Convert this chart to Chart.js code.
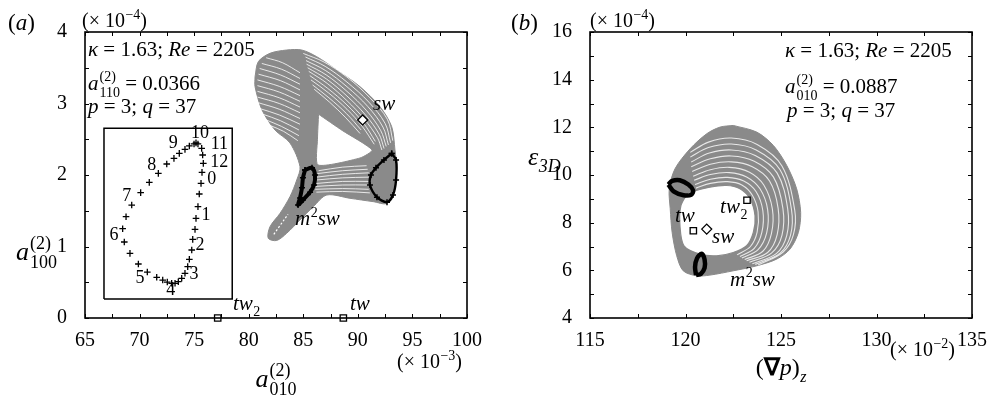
<!DOCTYPE html>
<html>
<head>
<meta charset="utf-8">
<script src="https://cdn.jsdelivr.net/npm/chart.js@4.4.0/dist/chart.umd.min.js"></script>
<style>
body { margin: 0; background: #fff; }
canvas { position: absolute; top: 0; }
#ca { left: 0; }
#cb { left: 499px; }
</style>
</head>
<body>
<canvas id="ca" width="499" height="402"></canvas>
<canvas id="cb" width="499" height="402"></canvas>
<script>
// ---- panel (a) data : x = a010 (x 1e-3), y = a100 (x 1e-4)
const aXTicks = [65, 70, 75, 80, 85, 90, 95, 100];
const aYTicks = [0, 1, 2, 3, 4];
const aOutline = [[80.58,3.375],[80.88,3.585],[81.95,3.702],[83.48,3.748],[84.86,3.748],[86.23,3.655],[88.06,3.469],[90.20,3.235],[92.03,2.955],[93.10,2.676],[93.40,2.350],[93.56,2.070],[93.25,1.790],[92.64,1.604],[91.42,1.627],[89.28,1.674],[87.15,1.720],[85.92,1.557],[84.70,1.371],[83.48,1.185],[82.56,1.084],[81.79,1.115],[81.95,1.277],[82.87,1.464],[83.78,1.697],[84.40,1.930],[84.70,2.116],[83.78,2.448],[82.41,2.629],[81.22,2.909],[80.58,3.235],[80.58,3.375]];
const aHole = [[86.40,2.85],[88.6,2.62],[91.30,2.350],[90.20,2.238],[86.35,2.140],[86.30,2.50],[86.40,2.85]];
const aLobeStripes = [
  [[81.6,3.64],[83.1,3.57],[84.7,3.43]],
  [[81.2,3.56],[83.0,3.48],[84.7,3.35]],
  [[81.0,3.49],[82.9,3.40],[84.7,3.27]],
  [[80.9,3.41],[82.9,3.32],[84.7,3.19]],
  [[80.8,3.33],[82.8,3.24],[84.7,3.11]],
  [[80.8,3.25],[82.8,3.16],[84.7,3.03]],
  [[80.8,3.17],[82.8,3.08],[84.7,2.95]],
  [[80.8,3.09],[82.8,3.00],[84.7,2.87]],
  [[80.9,3.01],[82.8,2.92],[84.7,2.79]],
  [[81.0,2.93],[82.8,2.84],[84.7,2.71]],
  [[81.3,2.85],[82.9,2.76],[84.6,2.63]],
  [[81.6,2.77],[83.0,2.68],[84.6,2.55]],
  [[82.0,2.69],[83.2,2.61],[84.5,2.48]]
];
const aBandStripes = [
  [[85.0,3.70],[86.9,3.58],[89.0,3.37],[91.1,3.08],[92.7,2.78],[93.2,2.48]],
  [[85.2,3.65],[87.0,3.52],[89.0,3.30],[91.0,3.02],[92.5,2.72],[93.0,2.45]],
  [[85.25,3.60],[87.05,3.46],[89.0,3.235],[90.9,2.96],[92.3,2.67],[92.8,2.42]],
  [[85.3,3.55],[87.1,3.40],[89.0,3.17],[90.8,2.90],[92.1,2.62],[92.6,2.40]],
  [[85.4,3.50],[87.15,3.34],[89.0,3.105],[90.7,2.84],[91.95,2.57],[92.4,2.37]],
  [[85.5,3.45],[87.2,3.28],[89.0,3.04],[90.6,2.78],[91.8,2.52],[92.2,2.35]],
  [[85.6,3.39],[87.25,3.21],[89.0,2.98],[90.5,2.73],[91.6,2.47]],
  [[85.7,3.33],[87.3,3.15],[89.0,2.92],[90.4,2.68],[91.5,2.43]],
  [[85.85,3.26],[87.35,3.08],[88.95,2.86],[90.3,2.63]],
  [[86.0,3.20],[87.4,3.02],[88.9,2.80],[90.2,2.58]]
];
const aLowStripes = [
  [[86.4,2.06],[88.6,2.11],[90.8,2.13]],
  [[86.3,2.02],[88.6,2.06],[90.9,2.08]],
  [[86.2,1.97],[88.6,2.01],[91.0,2.03]],
  [[86.2,1.93],[88.6,1.96],[91.0,1.97]],
  [[86.1,1.88],[88.6,1.91],[91.0,1.91]],
  [[86.1,1.84],[88.6,1.86],[91.0,1.86]],
  [[86.1,1.80],[88.6,1.81],[91.0,1.80]],
  [[86.2,1.76],[88.6,1.77],[91.1,1.75]]
];
const aTailStripe = [[82.3,1.17],[82.9,1.30],[83.6,1.45]];
const aLoopLeft = [[85.16,2.07],[85.80,2.10],[86.07,2.00],[85.98,1.86],[85.62,1.76],[84.97,1.65],[84.52,1.58],[84.70,1.68],[84.88,1.82],[84.97,1.96],[85.16,2.07]];
const aLoopRight = [[93.10,2.30],[93.50,2.21],[93.50,1.93],[93.22,1.72],[92.67,1.62],[91.75,1.69],[91.11,1.86],[91.20,2.00],[91.66,2.10],[92.39,2.21],[93.10,2.30]];
const aInsetBox = [[66.74,0.266],[78.49,0.266],[78.49,2.653],[66.74,2.653],[66.74,0.266]];
const aInsetPts = [[74.99,2.434],[75.17,2.45],[75.35,2.434],[75.69,2.373],[75.78,2.280],[75.84,2.163],[75.72,2.037],[75.63,1.883],[75.47,1.734],[75.35,1.557],[75.17,1.394],[75.08,1.240],[74.87,1.100],[74.78,0.951],[74.56,0.821],[74.41,0.718],[74.16,0.625],[73.86,0.555],[73.55,0.508],[73.25,0.485],[72.94,0.485],[72.54,0.503],[72.12,0.531],[71.57,0.569],[70.71,0.643],[69.89,0.755],[69.12,0.904],[68.60,1.063],[68.45,1.249],[68.76,1.417],[69.28,1.580],[70.10,1.753],[70.89,1.897],[71.72,2.023],[72.49,2.154],[73.15,2.233],[73.64,2.303],[74.16,2.359],[74.56,2.406]];
const aInsetNums = ['0','1','2','3','4','5','6','7','8','9','10','11','12'];
const aInsetNumPos = [[76.61,1.940],[76.09,1.441],[75.54,1.021],[74.99,0.615],[72.85,0.382],[70.04,0.555],[67.66,1.161],[68.82,1.706],[71.11,2.140],[73.09,2.443],[75.54,2.583],[77.31,2.434],[77.31,2.172]];
const aTw = [[77.16,0],[88.67,0]];
const aSw = [[90.44,2.77]];

// ---- panel (b) data : x = (grad p)z (x 1e-2), y = eps3D (x 1e-4)
const bXTicks = [115, 120, 125, 130, 135];
const bYTicks = [4, 6, 8, 10, 12, 14, 16];
const bOutline = [[122.50,12.08],[123.73,11.80],[124.60,11.24],[125.30,10.40],[125.82,9.42],[126.03,8.43],[125.91,7.59],[125.47,6.89],[124.77,6.47],[123.73,6.19],[122.50,5.98],[121.28,5.80],[120.59,5.77],[119.88,5.98],[119.54,6.61],[119.30,7.59],[119.20,8.58],[119.15,9.42],[119.45,10.26],[120.24,11.10],[121.11,11.73],[121.81,12.01],[122.50,12.08]];
const bHole = [[120.13,9.26],[121.28,9.49],[122.16,9.56],[122.85,9.42],[123.38,9.00],[123.64,8.29],[123.55,7.59],[123.20,7.03],[122.50,6.75],[121.63,6.61],[120.76,6.68],[119.92,7.03],[119.71,7.87],[119.76,8.72],[120.13,9.26]];
const bStripes = [
  [[120.55,9.45],[121.3,9.65],[122.2,9.72],[122.95,9.58],[123.5,9.15],[123.8,8.45],[123.75,7.6],[123.4,7.0],[122.7,6.65]],
  [[120.5,9.6],[121.3,9.82],[122.2,9.9],[123.05,9.75],[123.7,9.3],[124.05,8.5],[124.0,7.6],[123.6,6.92],[122.85,6.58]],
  [[120.45,9.78],[121.3,10.02],[122.3,10.1],[123.2,9.92],[123.9,9.42],[124.3,8.55],[124.25,7.57],[123.8,6.87],[122.95,6.52]],
  [[120.4,9.95],[121.3,10.22],[122.3,10.32],[123.35,10.12],[124.1,9.58],[124.55,8.57],[124.5,7.54],[124.05,6.8],[123.1,6.45]],
  [[120.35,10.15],[121.3,10.45],[122.4,10.55],[123.5,10.35],[124.4,9.75],[124.85,8.6],[124.8,7.5],[124.3,6.75],[123.2,6.4]],
  [[120.3,10.35],[121.3,10.68],[122.4,10.8],[123.6,10.58],[124.6,9.92],[125.1,8.6],[125.05,7.47],[124.5,6.72],[123.35,6.34]],
  [[120.3,10.55],[121.25,10.92],[122.4,11.05],[123.65,10.82],[124.8,10.08],[125.35,8.58],[125.3,7.46],[124.75,6.7],[123.5,6.28]],
  [[120.25,10.75],[121.2,11.15],[122.4,11.3],[123.7,11.05],[124.95,10.22],[125.55,8.55],[125.5,7.48],[124.95,6.72],[123.65,6.25]],
  [[120.25,10.95],[121.2,11.38],[122.4,11.55],[123.75,11.28],[125.05,10.38],[125.72,8.52],[125.65,7.5],[125.1,6.76],[123.8,6.22]]
];
const bRingTw = [[119.1,9.6],[119.3,9.75],[119.7,9.78],[120.15,9.6],[120.4,9.35],[120.3,9.17],[119.9,9.15],[119.4,9.3],[119.1,9.6]];
const bLoopM2 = [[120.55,5.8],[120.5,6.15],[120.6,6.5],[120.85,6.7],[121.0,6.45],[121.0,6.1],[120.8,5.85],[120.55,5.8]];
const bTw = [[120.41,7.66],[123.22,8.94]];
const bSw = [[121.11,7.73]];

const FONT = '"Liberation Serif", "Times New Roman", serif';
const GRAY = '#8a8a8a';
const STRIPE = 'rgba(255,255,255,0.8)';
const pts = arr => arr.map(([x, y]) => ({x, y}));

function curve(arr, color, width, order, extra) {
  return Object.assign({data: pts(arr), showLine: true, borderColor: color, borderWidth: width,
    pointRadius: 0, tension: 0.35, fill: false, order: order}, extra || {});
}
function marks(arr, style, r, order) {
  return {data: pts(arr), showLine: false, pointStyle: style, pointRadius: r, pointBorderColor: '#000',
    pointBackgroundColor: '#fff', pointBorderWidth: 1.3, order: order, clip: false};
}

// text with italic / sub / sup pieces
function walk(ctx, x, y, parts, size, draw) {
  let cx = x;
  ctx.textBaseline = 'alphabetic';
  ctx.textAlign = 'left';
  for (const p of parts) {
    const s = Math.round(size * 0.68);
    if (p.ss) {
      ctx.font = s + 'px ' + FONT;
      const w = Math.max(ctx.measureText(p.ss[0]).width, ctx.measureText(p.ss[1]).width);
      if (draw) {
        ctx.fillText(p.ss[0], cx + 1, y - size * 0.42);
        ctx.fillText(p.ss[1], cx + 1, y + size * 0.32);
      }
      cx += w + 1;
    } else if (p.sup !== undefined || p.sub !== undefined) {
      ctx.font = (p.i ? 'italic ' : '') + s + 'px ' + FONT;
      const t = p.sup !== undefined ? p.sup : p.sub;
      if (draw) ctx.fillText(t, cx + 0.5, y + (p.sup !== undefined ? -size * 0.4 : size * 0.28));
      cx += ctx.measureText(t).width + 0.5;
    } else {
      ctx.font = (p.i ? 'italic ' : '') + (p.b ? 'bold ' : '') + size + 'px ' + FONT;
      if (draw) ctx.fillText(p.t, cx, y);
      cx += ctx.measureText(p.t).width;
    }
  }
  return cx - x;
}
function text(ctx, x, y, parts, size, align) {
  const w = walk(ctx, 0, 0, parts, size, false);
  const sx = align === 'center' ? x - w / 2 : x;
  walk(ctx, sx, y, parts, size, true);
}
const R = t => ({t}), I = t => ({t, i: true});

// inward ticks on all four sides + box + texts
function framePlugin(minorX, minorY, drawTexts) {
  return {
    id: 'frame',
    afterDatasetsDraw(chart) {
      const {ctx, chartArea: {left, right, top, bottom}, scales: {x, y}} = chart;
      ctx.save();
      ctx.strokeStyle = '#000';
      ctx.lineWidth = 1;
      ctx.beginPath();
      for (let v = x.min; v <= x.max + 1e-9; v += minorX) {
        const px = Math.round(x.getPixelForValue(v)) + 0.5;
        ctx.moveTo(px, bottom); ctx.lineTo(px, bottom - 4);
        ctx.moveTo(px, top); ctx.lineTo(px, top + 4);
      }
      for (let v = y.min; v <= y.max + 1e-9; v += minorY) {
        const py = Math.round(y.getPixelForValue(v)) + 0.5;
        ctx.moveTo(left, py); ctx.lineTo(left + 4, py);
        ctx.moveTo(right, py); ctx.lineTo(right - 4, py);
      }
      ctx.stroke();
      ctx.lineWidth = 1.6;
      ctx.strokeRect(left, top, right - left, bottom - top);
      ctx.fillStyle = '#000';
      drawTexts(ctx, x, y);
      ctx.restore();
    }
  };
}

function axes(xt, yt, xStep, yStep, padRight) {
  const tickFont = {family: 'Liberation Serif', size: 20};
  return {
    x: {type: 'linear', min: xt[0], max: xt[xt.length - 1],
      ticks: {stepSize: xStep, font: tickFont, color: '#000', padding: 3, maxRotation: 0, autoSkip: false},
      grid: {display: false}, border: {display: false},
      afterFit(s) { s.height = 84; }},
    y: {type: 'linear', min: yt[0], max: yt[yt.length - 1],
      ticks: {stepSize: yStep, font: tickFont, color: '#000', padding: 10},
      grid: {display: false}, border: {display: false},
      afterFit(s) { s.width = padRight; }}
  };
}

// ---------- chart (a)
const aSets = [
  curve(aOutline, GRAY, 1, 20, {fill: 'shape', backgroundColor: GRAY, tension: 0.3}),
  curve(aHole, GRAY, 1, 19, {fill: 'shape', backgroundColor: '#fff', tension: 0.2}),
  ...aLobeStripes.map(s => curve(s, STRIPE, 1, 18)),
  ...aBandStripes.map(s => curve(s, STRIPE, 1, 18)),
  ...aLowStripes.map(s => curve(s, STRIPE, 1, 18)),
  curve(aTailStripe, '#fff', 1.2, 18, {borderDash: [2, 2]}),
  curve(aLoopLeft, '#000', 4, 10, {tension: 0.3, pointStyle: 'cross', pointRadius: 3, pointBorderColor: '#000', pointBorderWidth: 1.5}),
  curve(aLoopRight, '#000', 2.4, 10, {tension: 0.3, pointStyle: 'cross', pointRadius: 3, pointBorderColor: '#000', pointBorderWidth: 1.5}),
  curve(aInsetBox, '#000', 1.5, 9, {tension: 0}),
  {data: pts(aInsetPts), showLine: false, pointStyle: 'cross', pointRadius: 3.3, pointBorderColor: '#000', pointBorderWidth: 1.3, order: 8},
  marks(aTw, 'rect', 4.5, 1),
  marks(aSw, 'rectRot', 5, 1)
];

new Chart(document.getElementById('ca'), {
  type: 'scatter',
  data: {datasets: aSets},
  options: {
    responsive: false, animation: false,
    layout: {padding: {top: 32, right: 32, left: 0, bottom: 0}},
    plugins: {legend: {display: false}, tooltip: {enabled: false}},
    scales: axes(aXTicks, aYTicks, 5, 1, 85)
  },
  plugins: [framePlugin(2.5, 0.5, (ctx, x, y) => {
    text(ctx, 8, 30, [R('('), I('a'), R(')')], 23);
    text(ctx, 82, 27, [R('(× 10'), {sup: '−4'}, R(')')], 20);
    text(ctx, 397, 368, [R('(× 10'), {sup: '−3'}, R(')')], 20);
    text(ctx, 88, 56, [I('κ'), R(' = 1.63; '), I('Re'), R(' = 2205')], 21);
    text(ctx, 88, 90, [I('a'), {ss: ['(2)', '110']}, R(' = 0.0366')], 21);
    text(ctx, 88, 113, [I('p'), R(' = 3; '), I('q'), R(' = 37')], 21);
    text(ctx, 276, 387, [I('a'), {ss: ['(2)', '010']}], 26, 'center');
    text(ctx, 16, 260, [I('a'), {ss: ['(2)', '100']}], 26);
    // inset numbers
    ctx.font = '18px ' + FONT;
    ctx.textAlign = 'center';
    ctx.textBaseline = 'middle';
    aInsetNums.forEach((n, i) => {
      ctx.fillText(n, x.getPixelForValue(aInsetNumPos[i][0]), y.getPixelForValue(aInsetNumPos[i][1]));
    });
    // marker labels
    text(ctx, x.getPixelForValue(91.39), y.getPixelForValue(2.91), [I('sw')], 21);
    text(ctx, x.getPixelForValue(84.24), y.getPixelForValue(1.30), [I('m'), {sup: '2'}, I('sw')], 21);
    text(ctx, x.getPixelForValue(78.56), y.getPixelForValue(0.11), [I('tw'), {sub: '2'}], 21);
    text(ctx, x.getPixelForValue(89.28), y.getPixelForValue(0.11), [I('tw')], 21);
  })]
});

// ---------- chart (b)
const bSets = [
  curve(bOutline, GRAY, 1, 20, {fill: 'shape', backgroundColor: GRAY, tension: 0.3}),
  curve(bHole, GRAY, 1.2, 19, {fill: 'shape', backgroundColor: '#fff', tension: 0.3}),
  ...bStripes.map(s => curve(s, STRIPE, 1.1, 18)),
  curve(bRingTw, '#000', 4.5, 10, {tension: 0.3}),
  curve(bLoopM2, '#000', 4.5, 10, {tension: 0.3}),
  marks(bTw, 'rect', 4.5, 1),
  marks(bSw, 'rectRot', 5, 1)
];

new Chart(document.getElementById('cb'), {
  type: 'scatter',
  data: {datasets: bSets},
  options: {
    responsive: false, animation: false,
    layout: {padding: {top: 32, right: 26, left: 0, bottom: 0}},
    plugins: {legend: {display: false}, tooltip: {enabled: false}},
    scales: axes(bXTicks, bYTicks, 5, 2, 91)
  },
  plugins: [framePlugin(2.5, 1, (ctx, x, y) => {
    text(ctx, 12, 30, [R('('), I('b'), R(')')], 23);
    text(ctx, 91, 27, [R('(× 10'), {sup: '−4'}, R(')')], 20);
    text(ctx, 391, 356, [R('(× 10'), {sup: '−2'}, R(')')], 20);
    text(ctx, 286, 57, [I('κ'), R(' = 1.63; '), I('Re'), R(' = 2205')], 21);
    text(ctx, 286, 93, [I('a'), {ss: ['(2)', '010']}, R(' = 0.0887')], 21);
    text(ctx, 288, 117, [I('p'), R(' = 3; '), I('q'), R(' = 37')], 21);
    text(ctx, 282, 375, [R('('), {t: '∇', b: true}, I('p'), R(')'), {sub: 'z', i: true}], 24, 'center');
    text(ctx, 29, 165, [I('ε'), {sub: '3D', i: true}], 26);
    text(ctx, x.getPixelForValue(119.45), y.getPixelForValue(8.04), [I('tw')], 21);
    text(ctx, x.getPixelForValue(121.81), y.getPixelForValue(8.42), [I('tw'), {sub: '2'}], 21);
    text(ctx, x.getPixelForValue(121.39), y.getPixelForValue(7.16), [I('sw')], 21);
    text(ctx, x.getPixelForValue(122.33), y.getPixelForValue(5.35), [I('m'), {sup: '2'}, I('sw')], 21);
  })]
});
</script>
</body>
</html>
